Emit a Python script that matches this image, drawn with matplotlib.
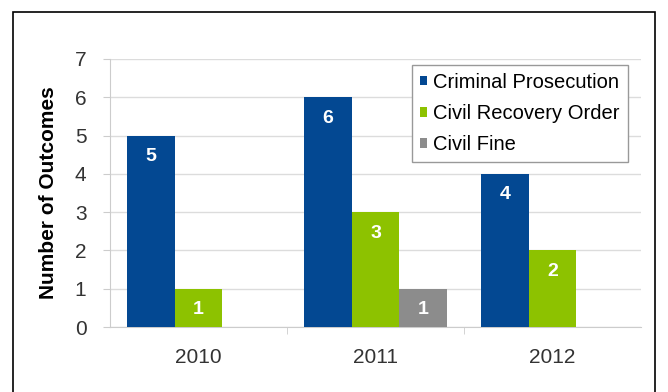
import matplotlib
matplotlib.use("Agg")
import matplotlib.pyplot as plt
from matplotlib.patches import Rectangle
import numpy as np

plt.rcParams['font.family'] = ['Liberation Sans', 'DejaVu Sans']

years = ["2010", "2011", "2012"]
series = ["Criminal Prosecution", "Civil Recovery Order", "Civil Fine"]
criminal = [5, 6, 4]
civil_recovery = [1, 3, 2]
civil_fine = [0, 1, 0]
colors = ["#034892", "#8dc200", "#8c8c8c"]

fig = plt.figure(figsize=(6.68, 3.92), dpi=100)
ax = fig.add_axes([0.1647, 0.1658, 0.7949, 0.6837])

# outer frame (bottom edge runs off the image)
fig.patches.append(Rectangle((13 / 668, -0.1), 642 / 668, 1.1 - 12 / 392,
                             transform=fig.transFigure, fill=False,
                             edgecolor="black", linewidth=1.2))

x = np.arange(len(years))
w = 0.27
for i, (vals, name) in enumerate(zip([criminal, civil_recovery, civil_fine], series)):
    pos = x + (i - 1) * w
    bars = ax.bar(pos, vals, width=w, color=colors[i], label=name, zorder=3)
    for b, v in zip(bars, vals):
        if v > 0:
            ax.text(b.get_x() + b.get_width() / 2, v - 0.55, str(v),
                    ha="center", va="center", color="white",
                    fontsize=14, fontweight="bold", zorder=4)

ax.set_xlim(-0.5, 2.5)
ax.set_ylim(0, 7)
ax.set_yticks(range(8))
ax.grid(axis="y", color="#dcdcdc", linewidth=1, zorder=0)
for s in ["top", "right"]:
    ax.spines[s].set_visible(False)
ax.spines["left"].set_color("#cccccc")
ax.spines["bottom"].set_color("#cccccc")
ax.set_xticks(x)
ax.set_xticklabels(years)
ax.set_xticks([0.5, 1.5], minor=True)
ax.tick_params(axis="x", which="major", length=0, pad=15, labelsize=15, labelcolor="#333333")
ax.tick_params(axis="x", which="minor", length=5, color="#cccccc")
ax.tick_params(axis="y", length=5, color="#cccccc", labelsize=15, labelcolor="#333333", pad=12)
ax.set_ylabel("Number of Outcomes", fontsize=15, fontweight="bold", labelpad=12)

leg = ax.legend(loc="upper right", bbox_to_anchor=(0.975, 0.978), borderaxespad=0,
                fontsize=14.5, handlelength=0.35, handleheight=0.35, handletextpad=0.3,
                borderpad=0.4, labelspacing=0.6, fancybox=False,
                edgecolor="#999999", framealpha=1)
leg.get_frame().set_linewidth(1)

fig.savefig("out.png", dpi=100)
